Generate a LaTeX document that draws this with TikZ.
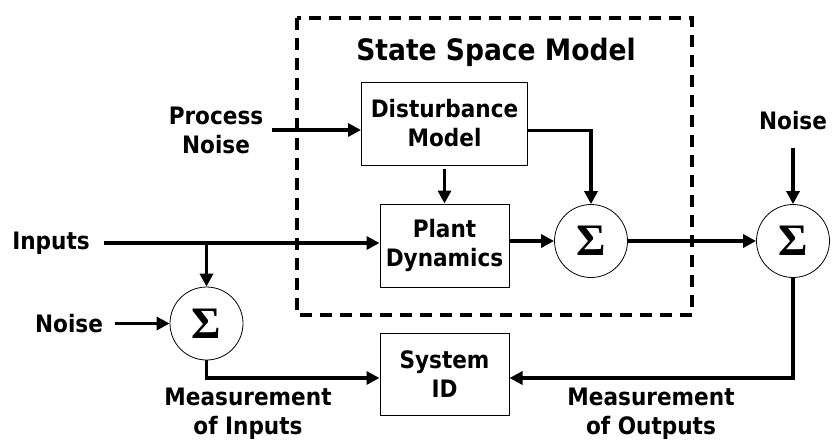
\documentclass[tikz,border=0pt]{standalone}
\usepackage{fontspec}
\setmainfont{DejaVu Sans Condensed}
\newfontfamily\sumfont{Liberation Serif}
\usetikzlibrary{shapes,arrows.meta,positioning,calc}

\begin{document}
\begin{tikzpicture}[x=1pt,y=-1pt,
    font=\bfseries\fontsize{24}{29}\selectfont,
    block/.style={draw, rectangle, line width=1pt, align=center, inner sep=0pt},
    sumnode/.style={draw, circle, line width=0.8pt, minimum size=73pt, inner sep=0pt,
        font=\sumfont\bfseries\fontsize{45}{45}\selectfont},
    lbl/.style={align=center},
    sig/.style={-{Triangle[length=13pt,width=13pt]}, line width=3.6pt}]
    \useasboundingbox (0,0) rectangle (838,445);

    % State space model
    \draw[line width=3.4pt, dash pattern=on 12pt off 8pt] (297,18) rectangle (692,315);
    \node (ssm) at (496,52) {\fontsize{29.5}{29.5}\selectfont State Space Model};
    \node[block, minimum width=166pt, minimum height=83pt] (dist) at (444.5,123.5) {Disturbance\\Model};
    \node[block, minimum width=129pt, minimum height=83pt] (plant) at (444.5,245.5) {Plant\\Dynamics};
    \node[sumnode] (sum1) at (591,241) {\raisebox{-3pt}{Σ}};

    % Outside the model
    \node[sumnode] (sum2) at (793,241) {\raisebox{-3pt}{Σ}};
    \node[sumnode] (sum3) at (206.5,323.5) {\raisebox{-3pt}{Σ}};
    \node[block, minimum width=129pt, minimum height=82pt] (sysid) at (444.5,374) {System\\ID};

    % Labels
    \node[lbl] (pnoise) at (216,130) {Process\\Noise};
    \node (inputs) at (51,243) {Inputs};
    \node (noise1) at (69,323.5) {Noise};
    \node (noise2) at (793,121) {Noise};
    \node[lbl] (minputs) at (248,414) {Measurement\\of Inputs};
    \node[lbl] (moutputs) at (651,414) {Measurement\\of Outputs};

    % Connections
    \draw[sig, shorten <=5pt] (pnoise.east) -- (pnoise.east -| dist.west);
    \draw[sig] ([yshift=-7pt]dist.east) -| (sum1.north);
    \draw[sig, shorten <=3pt] (dist.south) -- (plant.north);
    \draw[sig, shorten <=11pt] (inputs.east) -- (inputs.east -| plant.west);
    \draw[sig] (inputs.east -| sum3) -- (sum3.north);
    \draw[sig, shorten <=9pt] (noise1) -- (sum3);
    \draw[sig] (sum1.west -| plant.east) -- (sum1.west);
    \draw[sig] (sum1) -- (sum2);
    \draw[sig, shorten <=14pt] (noise2) -- (sum2);
    \draw[sig] (sum3.south) |- ([yshift=-4pt]sysid.west);
    \draw[sig] (sum2.south) |- ([yshift=-4pt]sysid.east);
\end{tikzpicture}
\end{document}
